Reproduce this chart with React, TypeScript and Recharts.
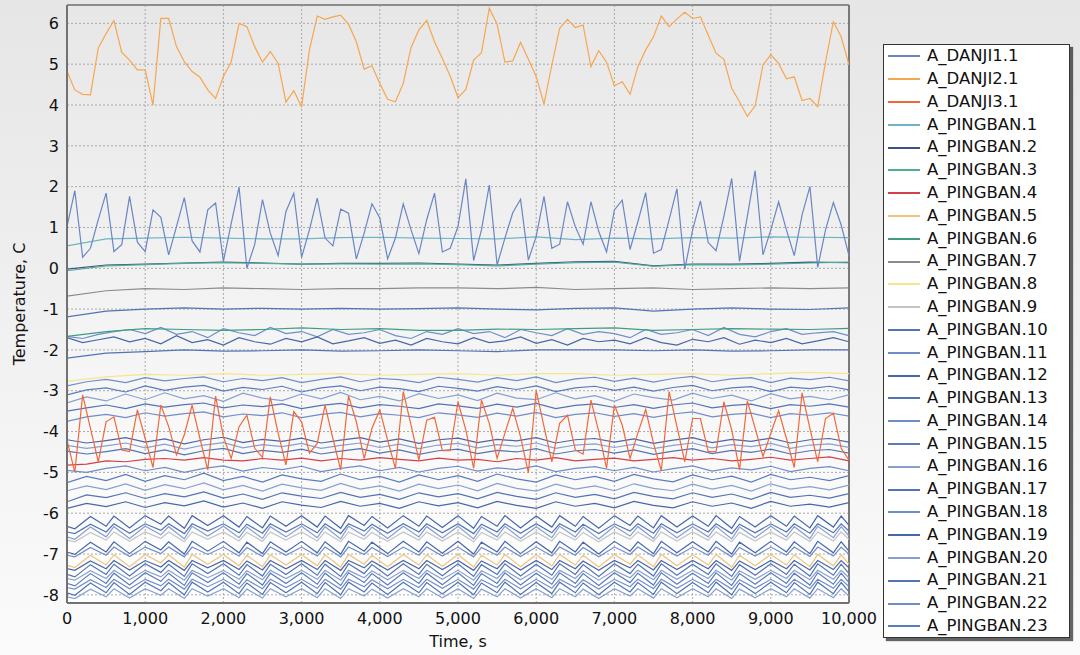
// Temperature traces chart (DANJI / PINGBAN sensors)

import { LineChart, Line, XAxis, YAxis, CartesianGrid, ReferenceLine, Label } from 'recharts'

// sampling grids (seconds)
const T100 = Array.from({ length: 101 }, (_, i) => i * 100)
const T250 = Array.from({ length: 41 }, (_, i) => i * 250)
const T500 = Array.from({ length: 21 }, (_, i) => i * 500)
const T200 = Array.from({ length: 51 }, (_, i) => i * 200)
// vertices of the lower bundle (peaks / troughs)
const TZ = [
  0, 100, 300, 500, 600, 800, 1000, 1200, 1300, 1500,
  1600, 1800, 2000, 2200, 2300, 2500, 2600, 2800, 3000, 3200,
  3300, 3500, 3600, 3800, 3900, 4100, 4300, 4500, 4600, 4800,
  5000, 5200, 5300, 5500, 5600, 5800, 6000, 6200, 6300, 6500,
  6600, 6800, 7000, 7200, 7300, 7500, 7600, 7800, 8000, 8200,
  8300, 8500, 8600, 8800, 9000, 9200, 9300, 9500, 9600, 9800,
  9900, 10000,
]

const X_TICKS = [0, 1000, 2000, 3000, 4000, 5000, 6000, 7000, 8000, 9000, 10000]
const Y_TICKS = [-8, -7, -6, -5, -4, -3, -2, -1, 0, 1, 2, 3, 4, 5, 6]
const X_MINOR = Array.from({ length: 41 }, (_, i) => i * 250)
const Y_MINOR = Array.from({ length: 58 }, (_, i) => -8 + i * 0.25)

const DANJI1 = [
  1.02, 1.90, 0.27, 0.49, 1.19, 1.84, 0.41, 0.58, 1.76, 0.64,
  0.41, 1.43, 1.25, 0.33, 1.02, 1.73, 0.67, 0.40, 1.43, 1.60,
  0.17, 1.10, 1.99, 0.00, 0.58, 1.68, 0.86, 0.31, 1.39, 1.84,
  0.27, 0.94, 1.72, 0.74, 0.55, 1.45, 1.35, 0.23, 0.86, 1.58,
  1.23, 0.23, 0.74, 1.58, 0.94, 0.36, 1.19, 1.84, 0.40, 0.49,
  1.02, 2.19, 0.19, 0.94, 2.04, 0.08, 0.74, 1.36, 1.69, 0.20,
  0.78, 1.76, 0.49, 0.59, 1.63, 1.02, 0.59, 1.63, 0.90, 0.40,
  1.43, 1.67, 0.46, 1.14, 1.85, 0.37, 0.46, 1.19, 1.95, -0.02,
  0.94, 1.65, 0.63, 0.43, 1.27, 2.20, 0.17, 1.27, 2.39, 0.33,
  0.94, 1.63, 0.94, 0.31, 1.31, 2.00, 0.02, 0.94, 1.61, 1.06,
  0.31,
]
const DANJI2 = [
  4.83, 4.37, 4.26, 4.25, 5.40, 5.75, 6.07, 5.29, 5.10, 4.86,
  4.86, 4.00, 6.12, 6.12, 5.43, 5.06, 4.82, 4.68, 4.37, 4.16,
  4.70, 5.06, 6.00, 5.92, 5.43, 5.05, 5.31, 5.02, 4.07, 4.35,
  3.96, 5.35, 6.18, 6.10, 6.16, 6.20, 5.98, 5.55, 4.88, 4.96,
  4.53, 4.14, 4.08, 4.53, 5.41, 5.84, 6.07, 5.55, 5.14, 4.71,
  4.18, 4.38, 5.10, 5.28, 6.37, 5.98, 5.05, 5.08, 5.54, 5.12,
  4.70, 4.02, 4.98, 5.88, 6.10, 5.90, 5.96, 4.94, 5.33, 5.05,
  4.47, 4.57, 4.26, 4.94, 5.35, 5.67, 6.18, 5.92, 6.11, 6.27,
  6.12, 6.16, 5.71, 5.27, 5.12, 4.41, 4.08, 3.72, 3.98, 4.98,
  5.23, 5.02, 4.64, 4.69, 4.11, 4.16, 3.96, 5.06, 6.04, 5.67,
  4.98,
]
const DANJI3 = [
  -4.21, -5.00, -3.10, -3.92, -4.74, -3.76, -3.64, -4.45, -4.49, -3.47,
  -4.17, -4.88, -3.35, -3.88, -4.57, -4.08, -3.35, -4.17, -4.94, -3.13,
  -4.13, -4.66, -3.88, -3.60, -4.41, -4.63, -3.15, -4.04, -4.82, -3.51,
  -3.76, -4.53, -4.29, -3.35, -4.17, -4.94, -3.13, -3.76, -4.66, -3.92,
  -3.47, -4.21, -4.90, -3.02, -3.84, -4.70, -3.72, -3.65, -4.47, -4.47,
  -3.27, -3.96, -4.90, -3.23, -3.80, -4.66, -4.04, -3.43, -4.13, -5.01,
  -3.00, -3.88, -4.74, -3.80, -3.60, -4.45, -4.55, -3.23, -4.00, -4.90,
  -3.35, -3.84, -4.66, -4.04, -3.46, -4.29, -4.96, -3.02, -3.88, -4.74,
  -3.68, -3.68, -4.49, -4.49, -3.27, -3.96, -4.94, -3.25, -3.92, -4.61,
  -4.04, -3.49, -4.17, -4.88, -3.05, -3.92, -4.74, -3.68, -3.55, -4.41,
  -4.70,
]

// flat sensors, every 500 s
const PB1 = [0.55, 0.72, 0.74, 0.76, 0.74, 0.72, 0.72, 0.75, 0.76, 0.74, 0.73, 0.72, 0.77, 0.70, 0.74, 0.72, 0.75, 0.74, 0.77, 0.76, 0.75]
const PB2 = [-0.02, 0.08, 0.10, 0.13, 0.15, 0.13, 0.10, 0.12, 0.12, 0.13, 0.10, 0.08, 0.12, 0.16, 0.17, 0.06, 0.10, 0.10, 0.12, 0.15, 0.14]
const PB3 = [-0.06, 0.06, 0.09, 0.12, 0.14, 0.12, 0.10, 0.11, 0.10, 0.11, 0.09, 0.06, 0.10, 0.14, 0.15, 0.05, 0.09, 0.08, 0.10, 0.13, 0.15]
const PB6 = [-1.67, -1.55, -1.48, -1.50, -1.52, -1.50, -1.46, -1.50, -1.48, -1.52, -1.52, -1.49, -1.50, -1.48, -1.46, -1.52, -1.50, -1.48, -1.49, -1.50, -1.47]
const PB7 = [-0.68, -0.55, -0.50, -0.52, -0.48, -0.50, -0.52, -0.50, -0.50, -0.48, -0.48, -0.50, -0.47, -0.52, -0.50, -0.48, -0.52, -0.50, -0.48, -0.50, -0.48]
const PB8 = [-2.77, -2.66, -2.60, -2.62, -2.58, -2.62, -2.60, -2.58, -2.62, -2.60, -2.58, -2.62, -2.58, -2.58, -2.62, -2.60, -2.58, -2.62, -2.58, -2.55, -2.58]
const PB10 = [-1.19, -1.05, -1.00, -0.97, -1.00, -0.98, -1.00, -0.98, -1.00, -0.99, -0.97, -1.00, -1.02, -0.98, -0.97, -1.05, -1.00, -0.97, -1.00, -1.01, -0.97]
const PB13 = [-2.20, -2.08, -2.04, -2.00, -2.03, -2.02, -2.00, -2.03, -2.02, -2.00, -2.02, -2.04, -2.00, -2.00, -2.00, -2.02, -2.00, -2.03, -2.02, -2.00, -2.00]

// zigzag pair near -1.7, every 200 s
const PB11 = [
  -1.67, -1.72, -1.62, -1.55, -1.50, -1.60, -1.45, -1.62, -1.55, -1.70,
  -1.48, -1.58, -1.65, -1.45, -1.60, -1.55, -1.68, -1.50, -1.62, -1.58,
  -1.50, -1.65, -1.72, -1.55, -1.62, -1.48, -1.60, -1.55, -1.70, -1.50,
  -1.58, -1.65, -1.48, -1.62, -1.55, -1.60, -1.70, -1.50, -1.62, -1.58,
  -1.50, -1.65, -1.45, -1.62, -1.68, -1.55, -1.48, -1.62, -1.58, -1.55,
  -1.65,
]
const PB12 = [
  -1.70, -1.82, -1.75, -1.68, -1.80, -1.72, -1.85, -1.65, -1.82, -1.75,
  -1.88, -1.70, -1.80, -1.86, -1.72, -1.80, -1.68, -1.85, -1.78, -1.70,
  -1.84, -1.76, -1.88, -1.72, -1.80, -1.85, -1.70, -1.82, -1.78, -1.68,
  -1.84, -1.75, -1.88, -1.72, -1.80, -1.76, -1.85, -1.70, -1.82, -1.88,
  -1.74, -1.80, -1.70, -1.86, -1.76, -1.82, -1.72, -1.85, -1.78, -1.70,
  -1.80,
]

// middle sensors, every 250 s
const PB14 = [
  -2.88, -2.78, -2.72, -2.80, -2.68, -2.76, -2.70, -2.66, -2.78, -2.70,
  -2.75, -2.68, -2.80, -2.72, -2.66, -2.78, -2.70, -2.73, -2.80, -2.67,
  -2.72, -2.79, -2.68, -2.75, -2.66, -2.80, -2.71, -2.67, -2.77, -2.69,
  -2.79, -2.70, -2.65, -2.78, -2.71, -2.68, -2.80, -2.69, -2.73, -2.67,
  -2.76,
]
const PB15 = [
  -3.10, -2.98, -2.93, -3.03, -2.88, -2.99, -2.91, -2.87, -3.01, -2.92,
  -2.97, -2.89, -3.03, -2.93, -2.88, -3.00, -2.91, -2.95, -3.02, -2.89,
  -2.94, -3.01, -2.90, -2.97, -2.88, -3.02, -2.93, -2.89, -2.99, -2.91,
  -3.01, -2.92, -2.87, -3.00, -2.93, -2.90, -3.02, -2.91, -2.95, -2.89,
  -2.98,
]
const PB16 = [
  -3.30, -3.15, -3.25, -3.08, -3.22, -3.05, -3.20, -3.12, -3.26, -3.06,
  -3.18, -3.24, -3.08, -3.20, -3.04, -3.22, -3.14, -3.25, -3.07, -3.19,
  -3.10, -3.24, -3.06, -3.18, -3.22, -3.05, -3.20, -3.12, -3.26, -3.08,
  -3.17, -3.23, -3.06, -3.19, -3.11, -3.25, -3.07, -3.20, -3.14, -3.22,
  -3.10,
]
const PB17 = [
  -3.50, -3.42, -3.35, -3.44, -3.32, -3.40, -3.34, -3.30, -3.42, -3.35,
  -3.39, -3.32, -3.44, -3.36, -3.31, -3.42, -3.34, -3.38, -3.44, -3.32,
  -3.37, -3.43, -3.33, -3.40, -3.31, -3.44, -3.36, -3.32, -3.41, -3.34,
  -3.43, -3.35, -3.30, -3.42, -3.36, -3.33, -3.44, -3.34, -3.38, -3.32,
  -3.40,
]
const PB18 = [
  -3.75, -3.64, -3.58, -3.66, -3.54, -3.62, -3.56, -3.52, -3.64, -3.57,
  -3.61, -3.54, -3.66, -3.58, -3.53, -3.64, -3.56, -3.60, -3.66, -3.54,
  -3.59, -3.65, -3.55, -3.62, -3.53, -3.66, -3.58, -3.54, -3.63, -3.56,
  -3.65, -3.57, -3.52, -3.64, -3.58, -3.55, -3.66, -3.56, -3.60, -3.54,
  -3.62,
]
const PB19 = [
  -4.20, -4.28, -4.22, -4.15, -4.26, -4.18, -4.30, -4.20, -4.14, -4.27,
  -4.19, -4.24, -4.16, -4.28, -4.21, -4.15, -4.26, -4.18, -4.29, -4.20,
  -4.16, -4.27, -4.19, -4.23, -4.15, -4.28, -4.20, -4.17, -4.26, -4.18,
  -4.29, -4.21, -4.15, -4.27, -4.19, -4.24, -4.16, -4.28, -4.20, -4.17,
  -4.26,
]
const PB20 = [
  -4.34, -4.41, -4.35, -4.28, -4.40, -4.31, -4.43, -4.33, -4.27, -4.40,
  -4.32, -4.37, -4.29, -4.41, -4.34, -4.28, -4.39, -4.31, -4.42, -4.33,
  -4.29, -4.40, -4.32, -4.36, -4.28, -4.41, -4.33, -4.30, -4.39, -4.31,
  -4.42, -4.34, -4.28, -4.40, -4.32, -4.37, -4.29, -4.41, -4.33, -4.30,
  -4.39,
]
const PB21 = [
  -4.48, -4.55, -4.49, -4.42, -4.54, -4.45, -4.57, -4.47, -4.41, -4.54,
  -4.46, -4.51, -4.43, -4.55, -4.48, -4.42, -4.53, -4.45, -4.56, -4.47,
  -4.43, -4.54, -4.46, -4.50, -4.42, -4.55, -4.47, -4.44, -4.53, -4.45,
  -4.56, -4.48, -4.42, -4.54, -4.46, -4.51, -4.43, -4.55, -4.47, -4.44,
  -4.53,
]
const PB4 = [
  -4.82, -4.80, -4.72, -4.74, -4.68, -4.66, -4.70, -4.64, -4.70, -4.72,
  -4.66, -4.70, -4.65, -4.72, -4.66, -4.70, -4.64, -4.68, -4.72, -4.65,
  -4.70, -4.68, -4.74, -4.66, -4.70, -4.64, -4.72, -4.68, -4.65, -4.72,
  -4.68, -4.64, -4.70, -4.66, -4.72, -4.68, -4.63, -4.70, -4.66, -4.62,
  -4.72,
]
const PB22 = [
  -4.95, -5.00, -4.90, -4.84, -4.96, -4.88, -5.00, -4.90, -4.84, -4.97,
  -4.88, -4.93, -4.85, -4.98, -4.90, -4.84, -4.96, -4.88, -4.99, -4.90,
  -4.85, -4.97, -4.89, -4.93, -4.84, -4.98, -4.90, -4.86, -4.96, -4.88,
  -4.99, -4.91, -4.84, -4.97, -4.89, -4.94, -4.85, -4.98, -4.90, -4.86,
  -4.96,
]
const PB23 = [
  -5.25, -5.10, -5.20, -5.05, -5.22, -5.08, -5.18, -5.02, -5.20, -5.10,
  -5.24, -5.06, -5.16, -5.22, -5.04, -5.18, -5.10, -5.24, -5.06, -5.18,
  -5.08, -5.22, -5.04, -5.16, -5.24, -5.06, -5.18, -5.10, -5.22, -5.05,
  -5.16, -5.23, -5.06, -5.18, -5.09, -5.24, -5.05, -5.18, -5.12, -5.20,
  -5.08,
]
const PB24 = [
  -5.45, -5.33, -5.42, -5.28, -5.44, -5.30, -5.40, -5.26, -5.43, -5.32,
  -5.46, -5.29, -5.38, -5.44, -5.27, -5.41, -5.33, -5.46, -5.29, -5.40,
  -5.31, -5.45, -5.27, -5.39, -5.46, -5.29, -5.41, -5.33, -5.45, -5.28,
  -5.39, -5.45, -5.29, -5.41, -5.32, -5.46, -5.28, -5.41, -5.35, -5.43,
  -5.31,
]
const PB25 = [
  -5.72, -5.55, -5.62, -5.50, -5.64, -5.52, -5.60, -5.48, -5.63, -5.53,
  -5.66, -5.50, -5.58, -5.64, -5.49, -5.61, -5.54, -5.66, -5.50, -5.60,
  -5.52, -5.65, -5.49, -5.59, -5.66, -5.50, -5.61, -5.54, -5.65, -5.49,
  -5.59, -5.65, -5.50, -5.61, -5.53, -5.66, -5.49, -5.61, -5.56, -5.63,
  -5.52,
]
const PB26 = [
  -5.88, -5.76, -5.84, -5.72, -5.86, -5.74, -5.82, -5.70, -5.85, -5.75,
  -5.88, -5.72, -5.80, -5.86, -5.71, -5.83, -5.76, -5.88, -5.72, -5.82,
  -5.74, -5.87, -5.71, -5.81, -5.88, -5.72, -5.83, -5.76, -5.87, -5.71,
  -5.81, -5.87, -5.72, -5.83, -5.75, -5.88, -5.71, -5.83, -5.78, -5.85,
  -5.74,
]

// lower bundle, on TZ vertices
const PB27 = [
  -6.32, -6.38, -6.08, -6.32, -6.07, -6.36, -6.06, -6.27, -6.07, -6.37,
  -6.06, -6.30, -6.06, -6.34, -6.08, -6.36, -6.07, -6.32, -6.06, -6.34,
  -6.07, -6.37, -6.06, -6.30, -6.08, -6.36, -6.06, -6.32, -6.07, -6.35,
  -6.06, -6.37, -6.08, -6.32, -6.06, -6.36, -6.07, -6.34, -6.06, -6.32,
  -6.08, -6.37, -6.06, -6.30, -6.07, -6.36, -6.06, -6.34, -6.07, -6.32,
  -6.06, -6.37, -6.08, -6.34, -6.06, -6.32, -6.07, -6.36, -6.06, -6.34,
  -6.07, -6.30,
]
const PB28 = [
  -6.46, -6.50, -6.27, -6.46, -6.26, -6.49, -6.26, -6.42, -6.26, -6.50,
  -6.26, -6.44, -6.26, -6.48, -6.27, -6.49, -6.26, -6.46, -6.26, -6.48,
  -6.26, -6.50, -6.26, -6.44, -6.27, -6.49, -6.26, -6.46, -6.26, -6.48,
  -6.26, -6.50, -6.27, -6.46, -6.26, -6.49, -6.26, -6.48, -6.26, -6.46,
  -6.27, -6.50, -6.26, -6.44, -6.26, -6.49, -6.26, -6.48, -6.26, -6.46,
  -6.26, -6.50, -6.27, -6.48, -6.26, -6.46, -6.26, -6.49, -6.26, -6.48,
  -6.26, -6.44,
]
const PB29 = [
  -6.58, -6.64, -6.34, -6.58, -6.33, -6.62, -6.32, -6.53, -6.33, -6.63,
  -6.32, -6.56, -6.32, -6.60, -6.34, -6.62, -6.33, -6.58, -6.32, -6.60,
  -6.33, -6.63, -6.32, -6.56, -6.34, -6.62, -6.32, -6.58, -6.33, -6.61,
  -6.32, -6.63, -6.34, -6.58, -6.32, -6.62, -6.33, -6.60, -6.32, -6.58,
  -6.34, -6.63, -6.32, -6.56, -6.33, -6.62, -6.32, -6.60, -6.33, -6.58,
  -6.32, -6.63, -6.34, -6.60, -6.32, -6.58, -6.33, -6.62, -6.32, -6.60,
  -6.33, -6.56,
]
const PB9 = [
  -6.66, -6.70, -6.47, -6.66, -6.46, -6.69, -6.46, -6.62, -6.46, -6.70,
  -6.46, -6.64, -6.46, -6.68, -6.47, -6.69, -6.46, -6.66, -6.46, -6.68,
  -6.46, -6.70, -6.46, -6.64, -6.47, -6.69, -6.46, -6.66, -6.46, -6.68,
  -6.46, -6.70, -6.47, -6.66, -6.46, -6.69, -6.46, -6.68, -6.46, -6.66,
  -6.47, -6.70, -6.46, -6.64, -6.46, -6.69, -6.46, -6.68, -6.46, -6.66,
  -6.46, -6.70, -6.47, -6.68, -6.46, -6.66, -6.46, -6.69, -6.46, -6.68,
  -6.46, -6.64,
]
const PB30 = [
  -6.95, -7.01, -6.71, -6.95, -6.70, -6.99, -6.69, -6.90, -6.70, -7.00,
  -6.69, -6.93, -6.69, -6.97, -6.71, -6.99, -6.70, -6.95, -6.69, -6.97,
  -6.70, -7.00, -6.69, -6.93, -6.71, -6.99, -6.69, -6.95, -6.70, -6.98,
  -6.69, -7.00, -6.71, -6.95, -6.69, -6.99, -6.70, -6.97, -6.69, -6.95,
  -6.71, -7.00, -6.69, -6.93, -6.70, -6.99, -6.69, -6.97, -6.70, -6.95,
  -6.69, -7.00, -6.71, -6.97, -6.69, -6.95, -6.70, -6.99, -6.69, -6.97,
  -6.70, -6.93,
]
const PB31 = [
  -7.03, -7.07, -6.84, -7.03, -6.83, -7.06, -6.83, -6.99, -6.83, -7.07,
  -6.83, -7.01, -6.83, -7.05, -6.84, -7.06, -6.83, -7.03, -6.83, -7.05,
  -6.83, -7.07, -6.83, -7.01, -6.84, -7.06, -6.83, -7.03, -6.83, -7.05,
  -6.83, -7.07, -6.84, -7.03, -6.83, -7.06, -6.83, -7.05, -6.83, -7.03,
  -6.84, -7.07, -6.83, -7.01, -6.83, -7.06, -6.83, -7.05, -6.83, -7.03,
  -6.83, -7.07, -6.84, -7.05, -6.83, -7.03, -6.83, -7.06, -6.83, -7.05,
  -6.83, -7.01,
]
const PB5 = [
  -7.27, -7.33, -7.03, -7.27, -7.02, -7.31, -7.01, -7.22, -7.02, -7.32,
  -7.01, -7.25, -7.01, -7.29, -7.03, -7.31, -7.02, -7.27, -7.01, -7.29,
  -7.02, -7.32, -7.01, -7.25, -7.03, -7.31, -7.01, -7.27, -7.02, -7.30,
  -7.01, -7.32, -7.03, -7.27, -7.01, -7.31, -7.02, -7.29, -7.01, -7.27,
  -7.03, -7.32, -7.01, -7.25, -7.02, -7.31, -7.01, -7.29, -7.02, -7.27,
  -7.01, -7.32, -7.03, -7.29, -7.01, -7.27, -7.02, -7.31, -7.01, -7.29,
  -7.02, -7.25,
]
const PB32 = [
  -7.36, -7.40, -7.17, -7.36, -7.16, -7.39, -7.16, -7.32, -7.16, -7.40,
  -7.16, -7.34, -7.16, -7.38, -7.17, -7.39, -7.16, -7.36, -7.16, -7.38,
  -7.16, -7.40, -7.16, -7.34, -7.17, -7.39, -7.16, -7.36, -7.16, -7.38,
  -7.16, -7.40, -7.17, -7.36, -7.16, -7.39, -7.16, -7.38, -7.16, -7.36,
  -7.17, -7.40, -7.16, -7.34, -7.16, -7.39, -7.16, -7.38, -7.16, -7.36,
  -7.16, -7.40, -7.17, -7.38, -7.16, -7.36, -7.16, -7.39, -7.16, -7.38,
  -7.16, -7.34,
]
const PB33 = [
  -7.50, -7.56, -7.26, -7.50, -7.25, -7.54, -7.24, -7.45, -7.25, -7.55,
  -7.24, -7.48, -7.24, -7.52, -7.26, -7.54, -7.25, -7.50, -7.24, -7.52,
  -7.25, -7.55, -7.24, -7.48, -7.26, -7.54, -7.24, -7.50, -7.25, -7.53,
  -7.24, -7.55, -7.26, -7.50, -7.24, -7.54, -7.25, -7.52, -7.24, -7.50,
  -7.26, -7.55, -7.24, -7.48, -7.25, -7.54, -7.24, -7.52, -7.25, -7.50,
  -7.24, -7.55, -7.26, -7.52, -7.24, -7.50, -7.25, -7.54, -7.24, -7.52,
  -7.25, -7.48,
]
const PB34 = [
  -7.60, -7.64, -7.41, -7.60, -7.40, -7.63, -7.40, -7.56, -7.40, -7.64,
  -7.40, -7.58, -7.40, -7.62, -7.41, -7.63, -7.40, -7.60, -7.40, -7.62,
  -7.40, -7.64, -7.40, -7.58, -7.41, -7.63, -7.40, -7.60, -7.40, -7.62,
  -7.40, -7.64, -7.41, -7.60, -7.40, -7.63, -7.40, -7.62, -7.40, -7.60,
  -7.41, -7.64, -7.40, -7.58, -7.40, -7.63, -7.40, -7.62, -7.40, -7.60,
  -7.40, -7.64, -7.41, -7.62, -7.40, -7.60, -7.40, -7.63, -7.40, -7.62,
  -7.40, -7.58,
]
const PB35 = [
  -7.72, -7.78, -7.48, -7.72, -7.47, -7.76, -7.46, -7.67, -7.47, -7.77,
  -7.46, -7.70, -7.46, -7.74, -7.48, -7.76, -7.47, -7.72, -7.46, -7.74,
  -7.47, -7.77, -7.46, -7.70, -7.48, -7.76, -7.46, -7.72, -7.47, -7.75,
  -7.46, -7.77, -7.48, -7.72, -7.46, -7.76, -7.47, -7.74, -7.46, -7.72,
  -7.48, -7.77, -7.46, -7.70, -7.47, -7.76, -7.46, -7.74, -7.47, -7.72,
  -7.46, -7.77, -7.48, -7.74, -7.46, -7.72, -7.47, -7.76, -7.46, -7.74,
  -7.47, -7.70,
]
const PB36 = [
  -7.82, -7.86, -7.63, -7.82, -7.62, -7.85, -7.62, -7.78, -7.62, -7.86,
  -7.62, -7.80, -7.62, -7.84, -7.63, -7.85, -7.62, -7.82, -7.62, -7.84,
  -7.62, -7.86, -7.62, -7.80, -7.63, -7.85, -7.62, -7.82, -7.62, -7.84,
  -7.62, -7.86, -7.63, -7.82, -7.62, -7.85, -7.62, -7.84, -7.62, -7.82,
  -7.63, -7.86, -7.62, -7.80, -7.62, -7.85, -7.62, -7.84, -7.62, -7.82,
  -7.62, -7.86, -7.63, -7.84, -7.62, -7.82, -7.62, -7.85, -7.62, -7.84,
  -7.62, -7.80,
]
const PB37 = [
  -7.95, -8.01, -7.71, -7.95, -7.70, -7.99, -7.69, -7.90, -7.70, -8.00,
  -7.69, -7.93, -7.69, -7.97, -7.71, -7.99, -7.70, -7.95, -7.69, -7.97,
  -7.70, -8.00, -7.69, -7.93, -7.71, -7.99, -7.69, -7.95, -7.70, -7.98,
  -7.69, -8.00, -7.71, -7.95, -7.69, -7.99, -7.70, -7.97, -7.69, -7.95,
  -7.71, -8.00, -7.69, -7.93, -7.70, -7.99, -7.69, -7.97, -7.70, -7.95,
  -7.69, -8.00, -7.71, -7.97, -7.69, -7.95, -7.70, -7.99, -7.69, -7.97,
  -7.70, -7.93,
]
const PB38 = [
  -8.05, -8.09, -7.86, -8.05, -7.85, -8.08, -7.85, -8.01, -7.85, -8.09,
  -7.85, -8.03, -7.85, -8.07, -7.86, -8.08, -7.85, -8.05, -7.85, -8.07,
  -7.85, -8.09, -7.85, -8.03, -7.86, -8.08, -7.85, -8.05, -7.85, -8.07,
  -7.85, -8.09, -7.86, -8.05, -7.85, -8.08, -7.85, -8.07, -7.85, -8.05,
  -7.86, -8.09, -7.85, -8.03, -7.85, -8.08, -7.85, -8.07, -7.85, -8.05,
  -7.85, -8.09, -7.86, -8.07, -7.85, -8.05, -7.85, -8.08, -7.85, -8.07,
  -7.85, -8.03,
]

const BLUES = ['#5373b6', '#6f8dc9', '#4767aa', '#86a0d2', '#5a7cbf']

type Series = { name: string; color: string; t: number[]; v: number[]; legend: boolean }

const blue = (name: string, i: number, t: number[], v: number[], legend = true): Series => ({
  name,
  color: BLUES[i % BLUES.length],
  t,
  v,
  legend,
})

// drawn first (under everything else)
const BLUE_SERIES: Series[] = [
  blue('A_PINGBAN.10', 0, T500, PB10),
  blue('A_PINGBAN.11', 1, T200, PB11),
  blue('A_PINGBAN.12', 2, T200, PB12),
  blue('A_PINGBAN.13', 0, T500, PB13),
  blue('A_PINGBAN.14', 1, T250, PB14),
  blue('A_PINGBAN.15', 4, T250, PB15),
  blue('A_PINGBAN.16', 3, T250, PB16),
  blue('A_PINGBAN.17', 0, T250, PB17),
  blue('A_PINGBAN.18', 1, T250, PB18),
  blue('A_PINGBAN.19', 2, T250, PB19),
  blue('A_PINGBAN.20', 3, T250, PB20),
  blue('A_PINGBAN.21', 0, T250, PB21),
  blue('A_PINGBAN.22', 1, T250, PB22),
  blue('A_PINGBAN.23', 4, T250, PB23),
  blue('A_PINGBAN.24', 3, T250, PB24, false),
  blue('A_PINGBAN.25', 0, T250, PB25, false),
  blue('A_PINGBAN.26', 2, T250, PB26, false),
  blue('A_PINGBAN.27', 2, TZ, PB27, false),
  blue('A_PINGBAN.28', 0, TZ, PB28, false),
  blue('A_PINGBAN.29', 3, TZ, PB29, false),
  blue('A_PINGBAN.30', 2, TZ, PB30, false),
  blue('A_PINGBAN.31', 1, TZ, PB31, false),
  blue('A_PINGBAN.32', 2, TZ, PB32, false),
  blue('A_PINGBAN.33', 0, TZ, PB33, false),
  blue('A_PINGBAN.34', 3, TZ, PB34, false),
  blue('A_PINGBAN.35', 4, TZ, PB35, false),
  blue('A_PINGBAN.36', 1, TZ, PB36, false),
  blue('A_PINGBAN.37', 0, TZ, PB37, false),
  blue('A_PINGBAN.38', 3, TZ, PB38, false),
]

const OTHER_SERIES: Series[] = [
  { name: 'A_PINGBAN.1', color: '#6fb4c6', t: T500, v: PB1, legend: true },
  { name: 'A_PINGBAN.2', color: '#3f5184', t: T500, v: PB2, legend: true },
  { name: 'A_PINGBAN.3', color: '#4fae93', t: T500, v: PB3, legend: true },
  { name: 'A_PINGBAN.4', color: '#d2404a', t: T250, v: PB4, legend: true },
  { name: 'A_PINGBAN.5', color: '#f0c27a', t: TZ, v: PB5, legend: true },
  { name: 'A_PINGBAN.6', color: '#3f9e80', t: T500, v: PB6, legend: true },
  { name: 'A_PINGBAN.7', color: '#8c8c8c', t: T500, v: PB7, legend: true },
  { name: 'A_PINGBAN.8', color: '#f3e68e', t: T500, v: PB8, legend: true },
  { name: 'A_PINGBAN.9', color: '#c4c4c4', t: TZ, v: PB9, legend: true },
]

const DANJI_SERIES: Series[] = [
  { name: 'A_DANJI1.1', color: '#6a86c4', t: T100, v: DANJI1, legend: true },
  { name: 'A_DANJI2.1', color: '#f7a650', t: T100, v: DANJI2, legend: true },
  { name: 'A_DANJI3.1', color: '#f2683a', t: T100, v: DANJI3, legend: true },
]

const DRAW_ORDER = [...BLUE_SERIES, ...OTHER_SERIES, ...DANJI_SERIES]
const LEGEND_ORDER = [...DANJI_SERIES, ...OTHER_SERIES, ...BLUE_SERIES].filter((s) => s.legend)

const pts = (t: number[], v: number[]) => t.map((x, i) => ({ t: x, v: v[i] }))

const FONT = '"DejaVu Sans", Verdana, sans-serif'
const Y_DOMAIN: [number, number] = [-8.2, 6.45]

function fmtX(v: number): string {
  return v.toLocaleString('en-US')
}

export default function App() {
  return (
    <div
      style={{
        position: 'absolute',
        left: 0,
        top: 0,
        width: 1080,
        height: 655,
        background: 'linear-gradient(to bottom, #e6e6e6, #fbfbfb)',
        fontFamily: FONT,
      }}
    >
      <LineChart width={1080} height={655} margin={{ top: 5, right: 231, left: 0, bottom: 0 }}>
        <defs>
          <linearGradient id="plotBg" x1="0" y1="0" x2="0" y2="1">
            <stop offset="0%" stopColor="#e7e7e7" />
            <stop offset="100%" stopColor="#ffffff" />
          </linearGradient>
        </defs>

        <CartesianGrid stroke="#a9a9a9" strokeDasharray="2 2" fill="url(#plotBg)" />

        {/* minor ticks, pointing into the plot */}
        <XAxis
          xAxisId="minor"
          type="number"
          dataKey="t"
          domain={[0, 10000]}
          ticks={X_MINOR}
          interval={0}
          mirror
          height={0}
          axisLine={false}
          tick={false}
          tickSize={4}
          tickLine={{ stroke: '#8a8a8a' }}
          allowDataOverflow
        />
        <XAxis
          type="number"
          dataKey="t"
          domain={[0, 10000]}
          ticks={X_TICKS}
          interval={0}
          height={52}
          tickFormatter={fmtX}
          tick={{ fill: '#111', fontSize: 16, fontFamily: FONT }}
          tickLine={false}
          tickSize={0}
          tickMargin={10}
          axisLine={{ stroke: '#727272', strokeWidth: 2 }}
          allowDataOverflow
        >
          <Label
            content={(p: any) => {
              const vb = p.viewBox || { x: 0, y: 0, width: 0, height: 0 }
              return (
                <text
                  x={vb.x + vb.width / 2}
                  y={vb.y + 44}
                  textAnchor="middle"
                  fill="#111"
                  fontSize={16}
                  fontFamily={FONT}
                >
                  Time, s
                </text>
              )
            }}
          />
        </XAxis>

        <YAxis
          yAxisId="minor"
          type="number"
          domain={Y_DOMAIN}
          ticks={Y_MINOR}
          interval={0}
          mirror
          width={0}
          axisLine={false}
          tick={false}
          tickSize={4}
          tickLine={{ stroke: '#8a8a8a' }}
          allowDataOverflow
        />
        <YAxis
          type="number"
          domain={Y_DOMAIN}
          ticks={Y_TICKS}
          interval={0}
          width={67}
          tick={{ fill: '#111', fontSize: 16, fontFamily: FONT }}
          tickLine={false}
          tickSize={0}
          tickMargin={8}
          axisLine={{ stroke: '#727272', strokeWidth: 2 }}
          allowDataOverflow
        >
          <Label
            content={(p: any) => {
              const vb = p.viewBox || { x: 0, y: 0, width: 0, height: 0 }
              const cx = vb.x + 19
              const cy = vb.y + vb.height / 2
              return (
                <text
                  x={cx}
                  y={cy}
                  transform={`rotate(-90 ${cx} ${cy})`}
                  textAnchor="middle"
                  dominantBaseline="central"
                  fill="#111"
                  fontSize={16}
                  fontFamily={FONT}
                >
                  Temperature, C
                </text>
              )
            }}
          />
        </YAxis>

        {/* top and right frame */}
        <ReferenceLine y={Y_DOMAIN[1]} stroke="#8c8c8c" strokeWidth={2} />
        <ReferenceLine x={10000} stroke="#7a7a7a" strokeWidth={2} />

        {DRAW_ORDER.map((s) => (
          <Line
            key={s.name}
            name={s.name}
            data={pts(s.t, s.v)}
            dataKey="v"
            type="linear"
            stroke={s.color}
            strokeWidth={1.2}
            dot={false}
            activeDot={false}
            isAnimationActive={false}
          />
        ))}
      </LineChart>

      {/* legend box */}
      <div
        style={{
          position: 'absolute',
          left: 883,
          top: 44,
          width: 185,
          height: 592,
          background: '#ffffff',
          border: '1px solid #333',
          boxShadow: '3px 3px 1px rgba(0,0,0,0.6)',
        }}
      >
        {LEGEND_ORDER.map((s) => (
          <div
            key={s.name}
            style={{ height: 22.8, display: 'flex', alignItems: 'center', whiteSpace: 'nowrap' }}
          >
            <div style={{ width: 32, height: 2, marginLeft: 4, background: s.color }} />
            <span style={{ marginLeft: 7, fontSize: 16.5, color: '#111', lineHeight: 1 }}>{s.name}</span>
          </div>
        ))}
      </div>
    </div>
  )
}
